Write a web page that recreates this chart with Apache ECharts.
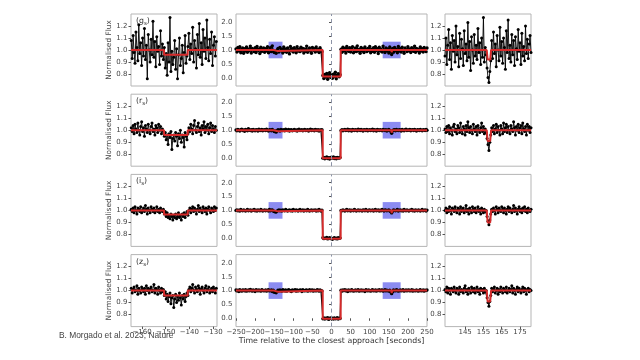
<!DOCTYPE html>
<html><head><meta charset="utf-8">
<script src="https://cdn.jsdelivr.net/npm/echarts@6/dist/echarts.min.js"></script>
<style>html,body{margin:0;padding:0;background:#fff}#c{width:640px;height:360px}</style>
</head><body><div id="c"></div>
<script>
// ---------- data ----------
const filters = ['g', 'r', 'i', 'z'];
// time sampling (seconds relative to closest approach)
const leftT0 = -164.6, leftStep = 0.4;
const rightT0 = 134.0, rightStep = 0.5;
const midT0 = -250, midStep = 2.5;
// panel ranges
const leftRange = [-164.7, -128.3];
const rightRange = [134, 181];
const midRange = [-250, 250];
// tick labels
const leftTicks = [-160, -150, -140, -130];
const rightTicks = [145, 155, 165, 175];
const sideYTicks = [0.8, 0.9, 1.0, 1.1, 1.2];
const midYTicks = [0.0, 0.5, 1.0, 1.5, 2.0];
// model parameters
const ringInT = [-150.7, -140.7];
const ringOutT = [156.8, 157.3, 158.7, 159.2];
const bodyT = [-23, 24];
const ringInFlux = [0.96, 0.96, 0.965, 0.96];
const ringOutFlux = [0.92, 0.91, 0.90, 0.91];
const bodyFlux = [0.04, -0.01, -0.02, -0.02];

// g filter
const gLeft = [1.08,0.93,1.12,0.98,0.89,1.15,1.02,0.91,1.21,0.97,
1.06,0.87,1.10,0.95,1.18,0.92,1.04,0.76,1.13,1.00,
0.90,1.09,0.96,1.24,0.94,1.07,0.86,1.11,0.99,1.03,
0.88,1.16,0.95,1.05,0.92,
1.02,0.85,0.97,0.79,1.06,0.90,1.27,0.82,0.99,0.88,0.94,1.08,0.84,1.01,0.76,0.96,1.10,0.87,0.93,1.04,0.81,0.98,1.12,0.89,0.95,1.03,
1.14,0.92,1.05,0.97,1.19,0.90,1.08,1.01,0.85,1.13,0.96,1.22,0.94,1.06,0.88,1.17,0.99,1.10,0.93,1.25,1.02,0.91,1.09,0.97,1.15,0.87,1.04,1.11,0.95,1.07];
const gRight = [0.95,1.10,0.88,1.04,1.17,0.92,1.06,0.84,1.12,0.99,
1.08,0.90,1.20,0.96,1.03,0.86,1.14,0.93,1.09,1.01,
0.87,1.16,0.97,1.05,0.91,1.23,0.94,1.07,0.83,1.11,
1.00,0.89,1.13,0.95,1.04,0.92,1.18,0.98,1.06,0.88,
1.10,0.94,1.27,0.90,1.02,0.96,
0.85,0.77,0.73,0.82,0.91,
1.08,0.93,1.15,0.97,1.05,0.86,1.12,1.00,0.91,1.19,
0.95,1.07,0.89,1.10,1.02,0.84,1.16,0.98,1.25,0.93,
1.04,0.90,1.13,0.96,1.08,0.87,1.11,1.01,0.92,1.17,
0.99,1.06,0.88,1.14,0.95,1.03,0.91,1.20,0.97,1.09,
0.93,1.05,1.12,0.98];
const gMid = [1.04,0.93,1.09,0.97,1.12,0.90,1.02,1.07,0.88,1.05,
0.96,1.11,0.92,1.03,0.98,1.14,0.89,1.06,1.00,0.94,
1.08,0.91,1.13,0.99,1.04,0.87,1.10,0.95,1.02,1.07,
0.92,1.05,0.97,1.12,0.90,1.01,1.08,0.94,1.15,0.96,
0.91,0.95,0.88,0.99,1.06,0.93,1.09,0.98,1.03,0.89,
1.11,0.95,1.04,0.92,1.07,1.00,0.86,1.13,0.97,1.05,
0.93,1.08,1.01,0.90,1.12,0.96,1.03,0.94,1.10,0.98,
1.06,0.89,1.04,0.95,1.14,0.92,1.01,1.07,0.97,0.88,
1.09,0.99,1.05,0.93,1.11,0.96,1.02,0.91,1.08,1.00,
0.94,
0.08,-0.03,0.12,0.02,0.15,-0.06,0.07,0.18,0.01,0.10,-0.02,0.13,0.05,0.20,-0.04,0.09,0.14,0.03,0.11,
1.03,
0.92,1.10,0.97,1.06,0.89,1.13,1.00,0.95,1.08,0.93,
1.04,1.12,0.90,0.99,1.07,0.94,1.15,0.97,1.02,0.88,
1.09,0.96,1.05,0.91,1.11,1.01,0.94,1.06,0.98,1.13,
0.90,1.03,0.95,1.08,0.92,1.12,0.99,1.05,0.87,1.10,
0.96,1.02,0.93,1.14,1.00,0.91,1.07,0.97,1.04,0.89,
1.11,0.95,0.84,1.06,0.92,1.09,0.98,1.03,0.90,1.13,
0.96,1.05,0.93,1.10,0.99,0.88,1.07,1.01,0.94,1.12,
0.97,1.04,0.91,1.08,1.00,0.95,1.14,0.92,1.06,0.98,
1.03,0.89,1.11,0.96,1.05,0.93,1.09,1.00,0.94,1.07];

// r filter
const rLeft = [1.02,0.99,1.04,0.97,1.05,1.01,0.98,1.06,1.00,0.96,
1.03,1.07,0.99,1.02,0.95,1.04,1.01,0.98,1.05,1.00,
0.97,1.03,1.06,0.99,1.01,0.96,1.04,1.02,0.98,1.05,
1.00,1.03,0.97,1.01,0.99,
0.95,0.98,0.92,0.96,0.88,0.97,0.94,0.99,0.84,0.93,0.96,0.91,0.98,0.95,0.87,0.97,0.93,1.00,0.90,0.96,0.94,0.86,0.98,0.95,0.92,0.97,
1.02,0.99,1.05,1.01,0.97,1.04,1.08,1.00,0.98,1.03,1.06,0.99,1.02,0.96,1.04,1.01,1.07,0.98,1.03,1.00,1.05,0.97,1.02,1.06,0.99,1.04,1.01,0.98,1.03,1.00];
const rRight = [1.01,0.98,1.03,0.99,1.04,0.97,1.02,1.00,0.96,1.03,
1.05,0.99,1.01,0.97,1.04,1.02,0.98,1.06,1.00,0.97,
1.03,1.01,0.96,1.04,0.99,1.07,1.02,0.98,1.03,1.00,
0.97,1.05,1.01,0.99,1.03,0.96,1.04,1.00,0.98,1.02,
1.06,0.99,1.03,0.97,1.01,0.98,
0.93,0.88,0.83,0.90,0.96,
1.02,0.99,1.04,0.97,1.01,1.05,0.98,1.03,1.00,0.96,
1.04,1.01,0.97,1.06,0.99,1.02,1.05,0.98,1.03,1.00,
0.97,1.04,1.01,0.99,1.07,1.02,0.96,1.03,1.00,1.05,
0.98,1.02,1.04,0.97,1.06,1.01,0.99,1.03,0.96,1.05,
1.00,1.03,0.98,1.02];
const rMid = [1.01,0.98,1.03,1.00,0.97,1.02,1.04,0.99,1.01,0.96,
1.03,1.00,0.98,1.05,1.01,0.99,1.02,0.97,1.03,1.00,
0.98,1.02,1.01,0.97,1.04,1.00,0.99,1.03,0.98,1.01,
1.02,0.99,1.04,1.00,0.97,1.02,1.01,0.98,1.03,0.99,
0.95,0.97,0.93,0.98,1.02,1.00,0.97,1.03,1.01,0.99,
1.02,0.98,1.04,1.00,0.99,1.03,0.97,1.01,1.02,0.98,
1.00,1.03,0.99,1.01,0.97,1.02,1.04,0.99,1.00,1.02,
0.98,1.01,1.03,0.99,1.00,1.02,0.97,1.01,1.04,0.99,
1.02,1.00,0.98,1.03,1.01,0.99,1.02,0.97,1.01,1.00,
1.02,
-0.01,0.02,-0.03,0.00,0.03,-0.02,0.01,-0.04,0.02,-0.01,0.00,0.03,-0.02,0.01,-0.03,0.02,0.00,-0.01,0.01,
0.99,
1.02,0.98,1.01,1.03,0.99,1.00,1.04,0.98,1.02,1.00,
0.97,1.03,1.01,0.99,1.02,1.00,0.98,1.04,1.01,0.99,
1.03,1.00,0.97,1.02,1.01,0.99,1.03,0.98,1.00,1.02,
0.99,1.01,1.04,0.98,1.02,1.00,0.97,1.03,1.01,0.99,
1.02,1.00,0.98,1.03,1.01,0.99,1.02,0.97,1.00,1.03,
0.99,0.96,0.89,0.97,1.01,1.02,0.98,1.03,1.00,0.99,
1.02,1.01,0.97,1.03,1.00,0.98,1.02,1.04,0.99,1.01,
1.00,1.03,0.98,1.01,1.02,0.99,1.03,1.00,0.97,1.02,
1.01,0.99,1.03,1.00,0.98,1.02,1.01,0.99,1.03,1.00];

// i filter
const iLeft = [1.01,0.99,1.02,0.98,1.03,1.00,0.97,1.02,1.01,0.99,
1.03,0.98,1.00,1.02,0.99,1.04,1.01,0.97,1.02,1.00,
0.98,1.03,1.01,0.99,1.02,0.98,1.00,1.03,0.99,1.01,
0.98,1.02,1.00,0.99,1.01,
0.97,0.99,0.95,0.98,0.94,0.96,0.93,0.97,0.95,0.92,0.96,0.94,0.97,0.93,0.95,0.98,0.94,0.96,0.92,0.97,0.95,0.98,0.94,0.97,0.99,0.96,
1.00,1.02,0.98,1.01,1.03,0.99,1.02,1.00,0.97,1.01,1.04,0.99,1.02,1.00,0.98,1.03,1.01,0.99,1.02,0.97,1.01,1.03,1.00,0.98,1.02,1.01,0.99,1.03,1.00,1.02];
const iRight = [1.00,1.02,0.98,1.01,0.99,1.03,1.00,0.97,1.02,1.01,
0.99,1.03,1.00,0.98,1.02,1.01,0.97,1.03,0.99,1.01,
1.02,0.98,1.00,1.04,0.99,1.01,0.97,1.02,1.00,0.98,
1.03,1.01,0.99,1.02,0.98,1.00,1.03,0.99,1.01,0.97,
1.02,1.00,0.98,1.01,0.99,1.00,
0.95,0.91,0.88,0.92,0.97,
1.01,0.99,1.02,1.00,0.97,1.03,1.01,0.98,1.02,1.00,
0.99,1.03,1.01,0.98,1.02,1.00,0.97,1.01,1.03,0.99,
1.02,1.00,0.98,1.01,1.04,0.99,1.02,1.00,0.97,1.01,
1.03,0.99,1.01,0.98,1.02,1.00,1.03,0.99,1.01,0.98,
1.02,1.00,0.99,1.01];
const iMid = [1.00,1.02,0.99,1.01,0.98,1.03,1.00,0.99,1.02,1.00,
0.98,1.01,1.03,0.99,1.00,1.02,0.98,1.01,1.00,1.03,
0.99,1.01,0.98,1.02,1.00,0.99,1.03,1.01,0.98,1.00,
1.02,0.99,1.01,1.00,0.98,1.03,0.99,1.01,1.02,0.98,
0.96,0.95,0.94,0.97,1.00,1.02,0.99,1.01,0.98,1.02,
1.00,0.99,1.03,1.01,0.98,1.00,1.02,0.99,1.01,0.98,
1.03,1.00,0.99,1.02,1.00,0.98,1.01,1.03,0.99,1.00,
1.02,0.98,1.01,1.00,0.99,1.03,1.01,0.98,1.00,1.02,
0.99,1.01,1.00,1.02,0.98,1.01,0.99,1.03,1.00,0.98,
1.01,
0.01,-0.02,0.00,-0.01,0.02,-0.03,-0.01,0.01,-0.02,0.00,-0.04,-0.01,0.01,-0.02,0.00,-0.03,0.01,-0.01,0.00,
1.00,
0.99,1.02,1.00,0.98,1.01,1.03,0.99,1.00,1.02,0.98,
1.01,1.00,0.99,1.03,1.01,0.98,1.00,1.02,0.99,1.01,
1.00,0.98,1.02,1.01,0.99,1.03,1.00,0.98,1.01,1.02,
0.99,1.00,1.02,0.98,1.01,1.03,0.99,1.00,1.02,0.98,
1.01,0.99,1.03,1.00,0.98,1.02,1.01,0.99,1.00,1.02,
0.98,0.96,0.91,0.97,1.02,1.00,0.99,1.01,1.03,0.98,
1.00,1.02,0.99,1.01,0.98,1.03,1.00,0.99,1.02,1.00,
0.98,1.01,1.00,1.03,0.99,1.01,0.98,1.02,1.00,0.99,
1.02,1.00,0.98,1.01,1.03,0.99,1.00,1.02,0.98,1.01];

// z filter
const zLeft = [1.02,0.98,1.01,1.03,0.99,1.00,1.04,0.97,1.02,1.00,
0.98,1.03,1.01,0.99,1.02,0.97,1.04,1.00,1.02,0.98,
1.01,1.03,0.99,1.00,1.05,0.98,1.02,1.01,0.97,1.03,
1.00,0.98,1.02,0.99,1.01,
0.96,0.99,0.93,0.97,0.91,0.95,0.98,0.89,0.94,0.96,0.86,0.93,0.97,0.90,0.95,0.92,0.98,0.94,0.88,0.96,0.93,0.97,0.91,0.95,0.98,0.96,
1.01,1.03,0.99,1.02,1.05,1.00,0.98,1.03,1.01,0.99,1.04,1.02,0.97,1.01,1.03,1.00,0.98,1.02,1.04,0.99,1.01,1.03,0.98,1.00,1.02,0.99,1.03,1.01,0.98,1.02];
const zRight = [1.01,0.99,1.03,0.98,1.02,1.00,0.97,1.02,1.01,0.99,
1.03,1.00,0.98,1.02,1.01,0.97,1.03,0.99,1.01,1.00,
0.98,1.02,1.04,0.99,1.01,0.97,1.02,1.00,0.98,1.03,
1.01,0.99,1.02,0.98,1.00,1.03,0.99,1.01,0.97,1.02,
1.00,1.01,0.98,1.02,0.99,1.00,
0.94,0.90,0.87,0.91,0.96,
1.02,0.99,1.01,1.03,0.98,1.00,1.02,0.97,1.01,0.99,
1.03,1.00,0.98,1.02,1.01,0.99,1.03,0.98,1.00,1.02,
0.99,1.01,1.04,0.98,1.02,1.00,0.97,1.01,1.03,0.99,
1.02,1.00,0.98,1.01,1.03,0.99,1.02,1.00,0.97,1.01,
1.02,0.99,1.01,1.00];
const zMid = [1.02,0.99,1.01,0.97,1.03,1.00,0.98,1.02,1.01,0.99,
1.03,0.98,1.00,1.02,0.99,1.04,1.01,0.98,1.02,1.00,
0.97,1.03,1.01,0.99,1.02,1.00,0.98,1.03,1.01,0.99,
1.00,1.02,0.98,1.01,1.03,0.99,1.00,1.02,0.97,1.01,
0.94,0.96,0.92,0.97,1.01,0.99,1.02,1.00,0.98,1.03,
1.01,0.99,1.02,0.98,1.00,1.03,1.01,0.99,0.97,1.02,
1.00,1.01,1.03,0.98,1.02,0.99,1.00,1.02,1.01,0.97,
1.03,1.00,0.99,1.01,1.02,0.98,1.00,1.03,0.99,1.01,
1.02,0.98,1.01,1.00,0.99,1.03,1.01,0.98,1.02,1.00,
0.99,
-0.02,0.01,-0.03,0.00,-0.01,0.02,-0.04,-0.01,0.01,-0.02,0.00,-0.03,0.01,-0.02,-0.01,0.02,-0.03,0.00,-0.01,
1.01,
0.98,1.02,1.00,1.03,0.99,1.01,0.97,1.02,1.00,0.99,
1.03,1.01,0.98,1.00,1.02,0.99,1.01,1.03,0.98,1.00,
1.02,0.99,1.01,1.00,0.97,1.03,1.01,0.99,1.02,1.00,
0.98,1.01,1.03,0.99,1.00,1.02,0.98,1.01,1.00,1.03,
0.99,1.01,1.02,0.98,1.00,1.03,0.99,1.01,1.00,0.98,
1.01,0.95,0.89,0.96,1.02,1.00,0.99,1.03,1.01,0.98,
1.00,1.02,0.99,1.01,1.03,0.98,1.00,1.02,0.99,1.01,
1.02,0.99,1.00,1.03,0.98,1.01,1.00,0.99,1.02,1.00,
0.98,1.01,1.03,0.99,1.00,1.02,0.98,1.01,1.00,1.02];

const leftData = [gLeft, rLeft, iLeft, zLeft];
const rightData = [gRight, rRight, iRight, zRight];
const midData = [gMid, rMid, iMid, zMid];

// ---------- layout ----------
const colLeft = [131, 236, 445];
const colWidth = [86, 191, 86];
const rowTop = [14, 94.2, 174.4, 254.6];
const rowH = 72;
const FONT = 'DejaVu Sans';
const TXT = '#444';

function fmtX(v) { return (v < 0 ? '\u2212' : '') + Math.abs(v); }
function fmtY(v) { return (v < 0 ? '\u2212' : '') + Math.abs(v).toFixed(1); }

function modelPoints(r, lo, hi) {
  const ev = [
    [ringInT[0], 1], [ringInT[0], ringInFlux[r]], [ringInT[1], ringInFlux[r]], [ringInT[1], 1],
    [bodyT[0], 1], [bodyT[0], bodyFlux[r]], [bodyT[1], bodyFlux[r]], [bodyT[1], 1],
    [ringOutT[0], 1], [ringOutT[1], ringOutFlux[r]], [ringOutT[2], ringOutFlux[r]], [ringOutT[3], 1]
  ];
  return [[lo, 1]].concat(ev.filter(p => p[0] > lo && p[0] < hi)).concat([[hi, 1]]);
}
function pairs(t0, step, arr) { return arr.map((v, i) => [t0 + i * step, v]); }

const grids = [], xAxes = [], yAxes = [], series = [];
let gi = 0;
for (let r = 0; r < 4; r++) {
  for (let c = 0; c < 3; c++) {
    grids.push({ left: colLeft[c], top: rowTop[r], width: colWidth[c], height: rowH,
      show: true, borderColor: '#b5b5b5', borderWidth: 1, backgroundColor: 'transparent' });
    const bottom = r === 3;
    const range = c === 0 ? leftRange : (c === 1 ? midRange : rightRange);
    const xa = { type: 'value', gridIndex: gi, min: range[0], max: range[1],
      axisLine: { show: false }, splitLine: { show: false },
      axisTick: { show: bottom, length: 2.5, lineStyle: { color: '#555' } },
      axisLabel: { show: bottom, fontFamily: FONT, fontSize: 7, color: TXT, margin: 2.5, formatter: fmtX,
        hideOverlap: false } };
    if (c === 1) { xa.interval = 50; }
    else {
      const tk = c === 0 ? leftTicks : rightTicks;
      xa.axisTick.customValues = tk; xa.axisLabel.customValues = tk;
    }
    if (c === 1 && bottom) {
      xa.name = 'Time relative to the closest approach [seconds]';
      xa.nameLocation = 'middle'; xa.nameGap = 10;
      xa.nameTextStyle = { fontFamily: FONT, fontSize: 7.8, color: '#333' };
    }
    xAxes.push(xa);
    const yt = c === 1 ? midYTicks : sideYTicks;
    const ya = { type: 'value', gridIndex: gi, min: c === 1 ? -0.3 : 0.7, max: c === 1 ? 2.3 : 1.3,
      axisLine: { show: false }, splitLine: { show: false },
      axisTick: { show: true, length: 2.5, customValues: yt, lineStyle: { color: '#555' } },
      axisLabel: { fontFamily: FONT, fontSize: 7, color: TXT, margin: 3.5, customValues: yt, formatter: fmtY } };
    if (c === 0) {
      ya.name = 'Normalised Flux'; ya.nameLocation = 'middle'; ya.nameGap = 9;
      ya.nameTextStyle = { fontFamily: FONT, fontSize: 7.4, color: '#444' };
    }
    yAxes.push(ya);

    let pts, lo = range[0], hi = range[1];
    if (c === 0) pts = pairs(leftT0, leftStep, leftData[r]);
    else if (c === 1) pts = pairs(midT0, midStep, midData[r]);
    else pts = pairs(rightT0, rightStep, rightData[r]);
    series.push({ type: 'line', xAxisIndex: gi, yAxisIndex: gi, data: pts,
      symbol: 'circle', symbolSize: c === 1 ? 3.4 : 3, showAllSymbol: true, clip: true,
      lineStyle: { color: '#000', width: c === 1 ? 1.3 : 0.9 }, itemStyle: { color: '#000' },
      silent: true, z: 2 });
    const ms = { type: 'line', xAxisIndex: gi, yAxisIndex: gi, data: modelPoints(r, lo, hi),
      symbol: 'none', clip: true, lineStyle: { color: '#d42a2a', width: 2 }, silent: true, z: 3 };
    series.push(ms);
    if (c === 1) {
      series.push({ type: 'line', xAxisIndex: gi, yAxisIndex: gi, data: [], symbol: 'none', silent: true, z: 4,
        markArea: { silent: true, itemStyle: { color: 'rgba(95,95,235,0.72)' },
          data: [[{ xAxis: leftRange[0], yAxis: 0.7 }, { xAxis: leftRange[1], yAxis: 1.3 }],
                 [{ xAxis: rightRange[0], yAxis: 0.7 }, { xAxis: rightRange[1], yAxis: 1.3 }]] },
        markLine: { silent: true, symbol: 'none', label: { show: false },
          lineStyle: { color: '#8c93a6', type: [4, 3], width: 1 }, data: [{ xAxis: 0 }] } });
    }
    gi++;
  }
}

const graphic = filters.map((f, r) => ({
  type: 'text', left: colLeft[0] + 5, top: rowTop[r] + 3,
  style: { text: '{a|(' + f + '}{s|s}{a|)}', rich: {
    a: { fontFamily: FONT, fontSize: 7.8, fill: '#333', lineHeight: 11, verticalAlign: 'middle' },
    s: { fontFamily: FONT, fontSize: 5.5, fill: '#333', lineHeight: 11, verticalAlign: 'bottom' } } }
}));
graphic.push({ type: 'text', left: 59, top: 332,
  style: { text: 'B. Morgado et al. 2023; Nature', fontFamily: 'Liberation Sans', fontSize: 8.4, fill: '#444' } });

const chart = echarts.init(document.getElementById('c'), null, { renderer: 'canvas' });
chart.setOption({ animation: false, backgroundColor: '#fff', grid: grids, xAxis: xAxes, yAxis: yAxes,
  series: series, graphic: graphic });
</script></body></html>
